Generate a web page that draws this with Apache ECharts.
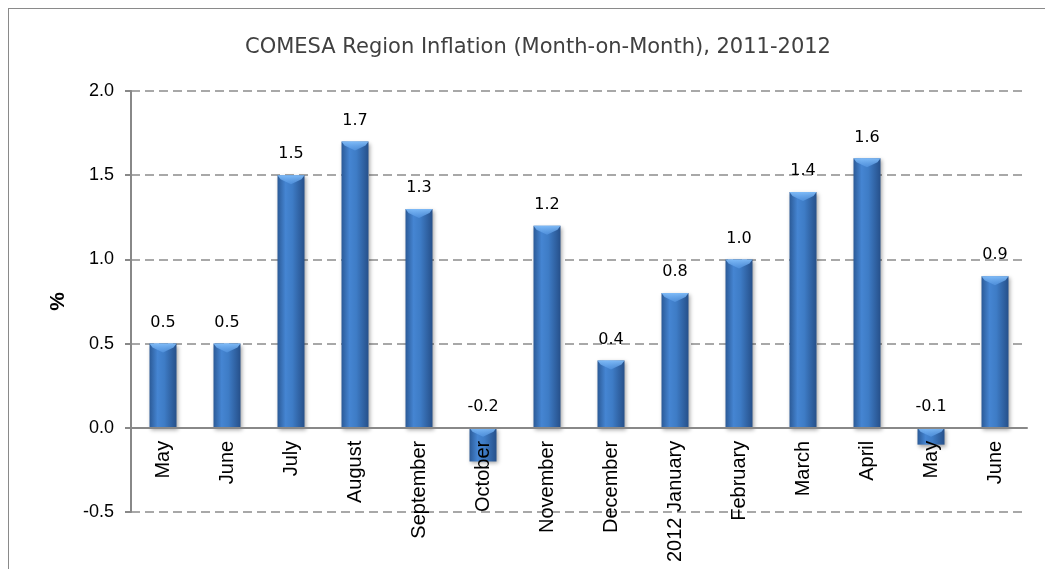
<!DOCTYPE html>
<html>
<head>
<meta charset="utf-8">
<script src="https://cdn.jsdelivr.net/npm/echarts@6/dist/echarts.min.js"></script>
<style>
  html, body { margin: 0; padding: 0; background: #fff; }
  #frame { position: absolute; left: 8px; top: 8px; width: 1100px; height: 600px; border: 1px solid #8a8a8a; box-sizing: border-box; }
  #chart { position: absolute; left: 0; top: 0; width: 1045px; height: 569px; }
</style>
</head>
<body>
<div id="frame"></div>
<div id="chart"></div>
<script>
const months = ["May", "June", "July", "August", "September", "October", "November", "December",
  "2012 January", "February", "March", "April", "May", "June"];
const inflation = [0.5, 0.5, 1.5, 1.7, 1.3, -0.2, 1.2, 0.4, 0.8, 1.0, 1.4, 1.6, -0.1, 0.9];
const yTicks = { min: -0.5, max: 2.0, step: 0.5 };

// plot box (px) - the x axis sits on the zero line, labels follow it
const plot = { top: 91, bottom: 57, height: 569 - 91 - 57 };
const zeroOffset = -plot.height * (0 - yTicks.min) / (yTicks.max - yTicks.min);
const BAR_W = 27;

const chart = echarts.init(document.getElementById("chart"));

const barFill = new echarts.graphic.LinearGradient(0, 0, 1, 0, [
  { offset: 0, color: "#2b5a97" },
  { offset: 0.3, color: "#4585d2" },
  { offset: 0.55, color: "#3e7cc6" },
  { offset: 1, color: "#26508a" },
]);

// light chevron on the top edge of each bar (the bevel)
function renderBevel(params, api) {
  const val = api.value(1);
  const top = api.coord([api.value(0), Math.max(val, 0)]);
  const half = BAR_W / 2;
  return {
    type: "polygon",
    shape: {
      points: [
        [top[0] - half, top[1]],
        [top[0] + half, top[1]],
        [top[0] + half - 3, top[1] + 4],
        [top[0], top[1] + 9],
        [top[0] - half + 3, top[1] + 4],
      ],
    },
    style: {
      fill: new echarts.graphic.LinearGradient(0, 0, 0, 1, [
        { offset: 0, color: "rgba(130,190,250,0.95)" },
        { offset: 1, color: "rgba(90,155,230,0.6)" },
      ]),
    },
  };
}

chart.setOption({
  animation: false,
  title: {
    text: "COMESA Region Inflation (Month-on-Month), 2011-2012",
    left: 533,
    top: 32,
    textAlign: "center",
    textStyle: { fontFamily: "DejaVu Sans", fontSize: 21, fontWeight: "normal", color: "#404040" },
  },
  grid: { left: 131, right: 18, top: plot.top, bottom: plot.bottom, outerBoundsMode: "none", containLabel: false },
  xAxis: {
    type: "category",
    data: months,
    offset: zeroOffset,
    z: 10,
    axisLine: { onZero: false, lineStyle: { color: "#888", width: 2 } },
    axisTick: { show: false },
    axisLabel: {
      rotate: 90,
      interval: 0,
      margin: 13,
      fontFamily: "Liberation Sans",
      fontSize: 20,
      color: "#000",
    },
  },
  yAxis: {
    type: "value",
    min: yTicks.min,
    max: yTicks.max,
    interval: yTicks.step,
    name: "%",
    nameLocation: "middle",
    nameRotate: 90,
    nameGap: 62,
    nameTextStyle: { fontFamily: "Liberation Sans", fontSize: 21, fontWeight: "bold", color: "#000" },
    axisLine: { show: true, lineStyle: { color: "#888", width: 2 } },
    axisTick: { show: true, length: 6, lineStyle: { color: "#888", width: 2 } },
    axisLabel: {
      margin: 17,
      fontFamily: "Liberation Sans",
      fontSize: 18,
      color: "#000",
      formatter: (v) => v.toFixed(1),
    },
    splitLine: { show: true, lineStyle: { color: "#8c8c8c", width: 1.5, type: [9, 5] } },
  },
  series: [
    {
      type: "bar",
      data: inflation,
      barWidth: BAR_W,
      itemStyle: {
        color: barFill,
        shadowColor: "rgba(0,0,0,0.35)",
        shadowBlur: 4,
        shadowOffsetX: 1,
        shadowOffsetY: 2,
      },
      label: {
        show: true,
        position: "top",
        distance: 13,
        fontFamily: "DejaVu Sans",
        fontSize: 16,
        color: "#000",
        formatter: (p) => p.value.toFixed(1),
      },
    },
    {
      type: "custom",
      data: inflation.map((v, i) => [i, v]),
      renderItem: renderBevel,
      silent: true,
      z: 3,
    },
  ],
});
</script>
</body>
</html>
